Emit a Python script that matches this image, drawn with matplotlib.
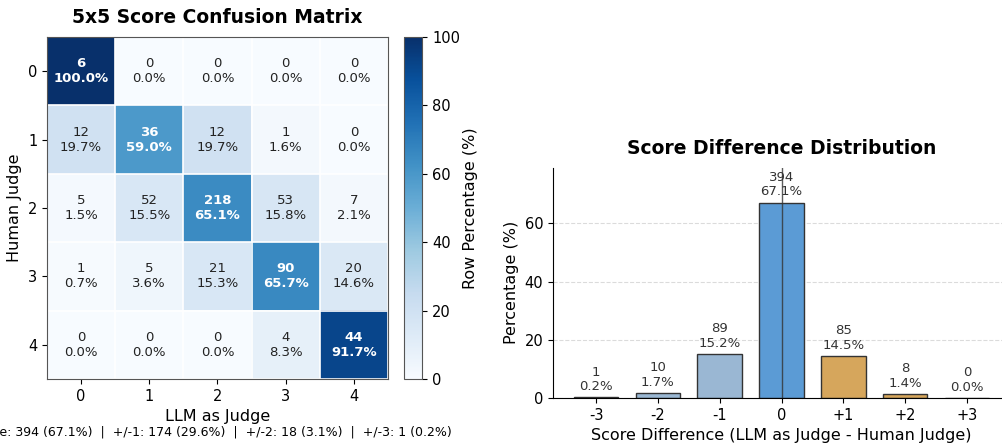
import matplotlib
matplotlib.use("Agg")
import matplotlib.pyplot as plt
import numpy as np

# counts: rows = Human Judge score, columns = LLM as Judge score
scores = [0, 1, 2, 3, 4]
counts = np.array([
    [6, 0, 0, 0, 0],
    [12, 36, 12, 1, 0],
    [5, 52, 218, 53, 7],
    [1, 5, 21, 90, 20],
    [0, 0, 0, 4, 44],
])

diff_labels = ['-3', '-2', '-1', '0', '+1', '+2', '+3']
diff_values = [-3, -2, -1, 0, 1, 2, 3]
diff_counts = [1, 10, 89, 394, 85, 8, 0]

summary_text = ("Exact Score: 394 (67.1%)  |  +/-1: 174 (29.6%)  |  "
                "+/-2: 18 (3.1%)  |  +/-3: 1 (0.2%)")

row_pct = counts / counts.sum(axis=1, keepdims=True) * 100

fig = plt.figure(figsize=(10.02, 4.43), dpi=100)

# ---- confusion matrix ----
ax1 = fig.add_axes([0.0469, 0.1445, 0.3403, 0.772])
im = ax1.imshow(row_pct, cmap='Blues', vmin=0, vmax=100, aspect='auto')
for i in range(len(scores)):
    for j in range(len(scores)):
        pct = row_pct[i, j]
        white = pct > 50
        ax1.text(j, i, f"{counts[i, j]}\n{pct:.1f}%", ha='center', va='center',
                 fontsize=9.5, color='white' if white else '#222222',
                 fontweight='bold' if i == j else 'normal', linespacing=1.2)
ax1.set_xticks(range(5))
ax1.set_yticks(range(5))
ax1.set_xticks(np.arange(-0.5, 5, 1), minor=True)
ax1.set_yticks(np.arange(-0.5, 5, 1), minor=True)
ax1.grid(which='minor', color='white', linewidth=1.2)
ax1.tick_params(which='minor', length=0)
ax1.tick_params(labelsize=10.5)
for s in ax1.spines.values():
    s.set_color('#555555')
ax1.set_xlabel('LLM as Judge', fontsize=11.5)
ax1.set_ylabel('Human Judge', fontsize=11.5)
ax1.set_title('5x5 Score Confusion Matrix', fontsize=13.5, fontweight='bold', pad=10)

cax = fig.add_axes([0.4035, 0.1445, 0.018, 0.772])
cb = fig.colorbar(im, cax=cax)
cb.set_label('Row Percentage (%)', fontsize=11.5, labelpad=2)
cb.ax.tick_params(labelsize=10.5)
cb.outline.set_edgecolor('#555555')

fig.text(0.1915, 0.025, summary_text, ha='center', va='center', fontsize=9)

# ---- difference distribution ----
ax2 = fig.add_axes([0.552, 0.1016, 0.456, 0.52])
total = sum(diff_counts)
pcts = [c / total * 100 for c in diff_counts]
colors = []
for d in diff_values:
    if d < 0:
        colors.append('#9ab7d3')
    elif d == 0:
        colors.append('#5b9bd5')
    else:
        colors.append('#d6a65c')
ax2.bar(diff_values, pcts, width=0.72, color=colors, edgecolor='#333333', linewidth=1)
for d, c, p in zip(diff_values, diff_counts, pcts):
    ax2.text(d, p + 1.5, f"{c}\n{p:.1f}%", ha='center', va='bottom', fontsize=9.5,
             color='#333333', linespacing=1.15)
ax2.axvline(0, color='#333333', linewidth=1, alpha=0.8)
ax2.set_ylim(0, max(pcts) * 1.18)
ax2.set_xticks(diff_values)
ax2.set_xticklabels(diff_labels)
ax2.set_yticks([0, 20, 40, 60])
ax2.tick_params(labelsize=10.5)
ax2.yaxis.grid(True, linestyle='--', color='#cccccc', alpha=0.7)
ax2.set_axisbelow(True)
ax2.spines['top'].set_visible(False)
ax2.spines['right'].set_visible(False)
ax2.set_xlabel('Score Difference (LLM as Judge - Human Judge)', fontsize=11.5)
ax2.set_ylabel('Percentage (%)', fontsize=11.5)
ax2.set_title('Score Difference Distribution', fontsize=13.5, fontweight='bold', pad=10)

fig.savefig('out.png', dpi=100)
